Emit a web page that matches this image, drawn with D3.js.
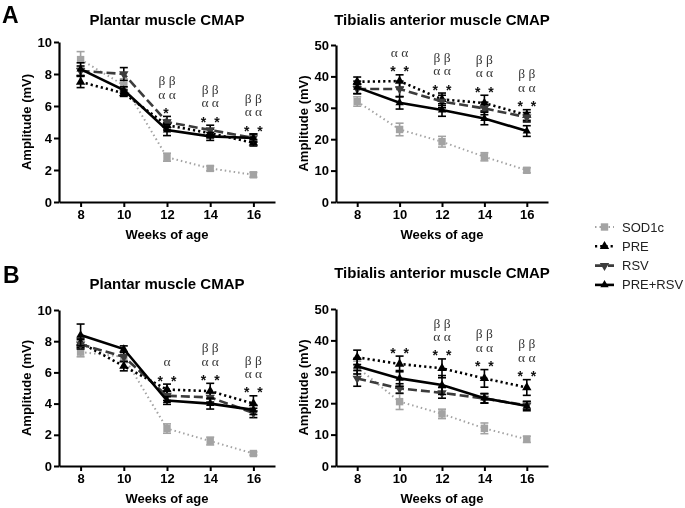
<!DOCTYPE html>
<html><head><meta charset="utf-8">
<script src="https://cdn.jsdelivr.net/npm/d3@7"></script>
<style>body{margin:0;background:#fff}svg{display:block;will-change:transform;transform:translateZ(0)}</style>
</head><body><svg id="c" width="685" height="508"></svg>
<script>
// ---------------- DATA ----------------
const weeks = [8, 10, 12, 14, 16];
const seriesNames = ["SOD1c", "PRE", "RSV", "PRE+RSV"];
const plantarTicks = [0, 2, 4, 6, 8, 10];
const tibialisTicks = [0, 10, 20, 30, 40, 50];

// rows: SOD1c, PRE, RSV, PRE+RSV
const aPlantarMean = [
  [8.9, 7.3, 2.8, 2.1, 1.7],
  [7.5, 6.8, 4.8, 4.3, 3.7],
  [8.2, 8.0, 5.0, 4.5, 4.0],
  [8.3, 7.0, 4.5, 4.1, 4.0]];
const aPlantarSem = [
  [0.5, 0.4, 0.25, 0.15, 0.15],
  [0.35, 0.2, 0.3, 0.25, 0.2],
  [0.3, 0.4, 0.35, 0.3, 0.25],
  [0.4, 0.2, 0.35, 0.25, 0.25]];

const aTibialisMean = [
  [32.0, 23.1, 19.2, 14.4, 10.1],
  [38.3, 38.5, 32.7, 31.5, 27.7],
  [36.0, 36.0, 32.0, 29.8, 27.0],
  [36.5, 31.6, 29.3, 26.6, 22.6]];
const aTibialisSem = [
  [1.5, 2.0, 1.7, 1.3, 0.8],
  [1.5, 2.0, 2.0, 2.5, 1.7],
  [1.5, 2.5, 2.0, 2.0, 1.5],
  [2.0, 2.0, 2.0, 2.0, 1.7]];

const bPlantarMean = [
  [7.3, 7.0, 2.4, 1.6, 0.8],
  [7.9, 6.4, 4.9, 4.8, 4.0],
  [7.8, 7.0, 4.5, 4.4, 3.4],
  [8.4, 7.5, 4.2, 4.0, 3.6]];
const bPlantarSem = [
  [0.3, 0.3, 0.3, 0.25, 0.1],
  [0.3, 0.3, 0.35, 0.5, 0.5],
  [0.3, 0.3, 0.3, 0.3, 0.3],
  [0.7, 0.2, 0.25, 0.35, 0.3]];

const bTibialisMean = [
  [31.4, 20.5, 16.6, 12.0, 8.5],
  [34.6, 32.5, 31.1, 27.9, 25.0],
  [27.9, 24.7, 23.3, 21.5, 19.3],
  [31.8, 27.9, 25.8, 21.6, 19.1]];
const bTibialisSem = [
  [2.0, 2.5, 1.5, 1.7, 1.0],
  [2.3, 2.5, 3.0, 2.8, 2.5],
  [2.5, 1.5, 1.7, 1.5, 1.2],
  [2.5, 2.5, 3.0, 1.5, 1.5]];

const aPlantarMarks = [[], [], ["β β", "α α", "*"], ["β β", "α α", "* *"], ["β β", "α α", "* *"]];
const aTibialisMarks = [[], ["α α", "* *"], ["β β", "α α", "* *"], ["β β", "α α", "* *"], ["β β", "α α", "* *"]];
const bPlantarMarks = [[], [], ["α", "* *"], ["β β", "α α", "* *"], ["β β", "α α", "* *"]];
const bTibialisMarks = [[], ["* *"], ["β β", "α α", "* *"], ["β β", "α α", "* *"], ["β β", "α α", "* *"]];

// ---------------- STYLE ----------------
const SANS = "'Liberation Sans', Arial, Helvetica, sans-serif";
const SERIF = "'Liberation Serif', 'Times New Roman', serif";
const styles = [
  {color: "#a3a3a3", width: 2, dash: "1.5,3", sym: d3.symbolSquare, size: 55, rot: 0},
  {color: "#000", width: 2.6, dash: "2.2,3", sym: d3.symbolTriangle, size: 38, rot: 0},
  {color: "#3c3c3c", width: 2.6, dash: "9,4", sym: d3.symbolTriangle, size: 38, rot: 180},
  {color: "#000", width: 2.6, dash: null, sym: d3.symbolTriangle, size: 30, rot: 0}
];

const svg = d3.select("#c");
svg.append("rect").attr("width", 685).attr("height", 508).attr("fill", "#fff");

const panels = [
  {mean: aPlantarMean, sem: aPlantarSem, marks: aPlantarMarks, ticks: plantarTicks, title: "Plantar muscle CMAP",
   L: 59, R: 275, T: 42, B: 202, titleY: 20, ylabX: 26, cx: 167},
  {mean: aTibialisMean, sem: aTibialisSem, marks: aTibialisMarks, ticks: tibialisTicks, title: "Tibialis anterior muscle CMAP",
   L: 336, R: 548, T: 45, B: 202, titleY: 20, ylabX: 303, cx: 442},
  {mean: bPlantarMean, sem: bPlantarSem, marks: bPlantarMarks, ticks: plantarTicks, title: "Plantar muscle CMAP",
   L: 59, R: 275, T: 310, B: 466, titleY: 284, ylabX: 26, cx: 167},
  {mean: bTibialisMean, sem: bTibialisSem, marks: bTibialisMarks, ticks: tibialisTicks, title: "Tibialis anterior muscle CMAP",
   L: 336, R: 548, T: 309, B: 466, titleY: 273, ylabX: 303, cx: 442}
];

panels.forEach(p => {
  const g = svg.append("g");
  const x = d3.scaleLinear().domain([7, 17]).range([p.L, p.R]);
  const y = d3.scaleLinear().domain([0, d3.max(p.ticks)]).range([p.B, p.T]);

  const xa = g.append("g").attr("transform", `translate(0,${p.B})`)
    .call(d3.axisBottom(x).tickValues(weeks).tickSize(5).tickSizeOuter(0).tickPadding(3));
  const ya = g.append("g").attr("transform", `translate(${p.L},0)`)
    .call(d3.axisLeft(y).tickValues(p.ticks).tickSize(5).tickSizeOuter(0).tickPadding(2));
  [xa, ya].forEach(a => {
    a.select(".domain").attr("stroke", "#000").attr("stroke-width", 2.2);
    a.selectAll(".tick line").attr("stroke", "#000").attr("stroke-width", 2);
    a.selectAll(".tick text").attr("fill", "#000").style("font-family", SANS)
      .style("font-weight", "bold").style("font-size", "13px");
  });

  g.append("text").attr("x", p.cx)
    .attr("y", p.titleY).attr("dy", "0.35em").attr("text-anchor", "middle")
    .style("font-family", SANS).style("font-weight", "bold").style("font-size", "15px").text(p.title);
  g.append("text").attr("x", p.cx).attr("y", p.B + 32).attr("dy", "0.35em")
    .attr("text-anchor", "middle").style("font-family", SANS).style("font-weight", "bold")
    .style("font-size", "13px").text("Weeks of age");
  g.append("text").attr("transform", `translate(${p.ylabX},${(p.T + p.B) / 2}) rotate(-90)`)
    .attr("dy", "0.35em").attr("text-anchor", "middle").style("font-family", SANS)
    .style("font-weight", "bold").style("font-size", "13px").text("Amplitude (mV)");

  p.mean.forEach((vals, si) => {
    const st = styles[si];
    const pts = weeks.map((w, i) => ({w, v: vals[i], e: p.sem[si][i]}));
    const line = d3.line().x(d => x(d.w)).y(d => y(d.v));
    g.append("path").datum(pts).attr("d", line).attr("fill", "none")
      .attr("stroke", st.color).attr("stroke-width", st.width)
      .attr("stroke-dasharray", st.dash);
    const eb = g.append("g").attr("stroke", si === 0 ? "#a3a3a3" : "#000").attr("stroke-width", 1.6);
    pts.forEach(d => {
      eb.append("line").attr("x1", x(d.w)).attr("x2", x(d.w)).attr("y1", y(d.v - d.e)).attr("y2", y(d.v + d.e));
      [d.v - d.e, d.v + d.e].forEach(v => eb.append("line")
        .attr("x1", x(d.w) - 4).attr("x2", x(d.w) + 4).attr("y1", y(v)).attr("y2", y(v)));
    });
    g.append("g").selectAll("path").data(pts).join("path")
      .attr("d", d3.symbol().type(st.sym).size(st.size))
      .attr("transform", d => `translate(${x(d.w)},${y(d.v)}) rotate(${st.rot})`)
      .attr("fill", st.color);
  });

  p.marks.forEach((lines, i) => {
    if (!lines.length) return;
    const top = d3.max(p.mean.map((row, si) => row[i] + p.sem[si][i]));
    const base = y(top) - 9;
    const n = lines.length;
    lines.forEach((txt, k) => {
      const yy = base - (n - 1 - k) * 13.5;
      const star = txt.includes("*");
      g.append("text").attr("x", x(weeks[i]) + (star && txt.length > 1 ? 1 : 0)).attr("y", yy)
        .attr("dy", star ? "0.75em" : "0.35em").attr("text-anchor", "middle")
        .style("font-family", star ? SANS : SERIF).style("font-size", star ? "14px" : "13.5px")
        .style("font-weight", star ? "bold" : "normal")
        .style("letter-spacing", star ? "2px" : "0px")
        .attr("fill", star ? "#111" : "#3a3a3a").text(txt);
    });
  });
});

svg.append("text").attr("x", 2).attr("y", 23).style("font-family", SANS).style("font-weight", "bold")
  .style("font-size", "23px").text("A");
svg.append("text").attr("x", 3).attr("y", 283).style("font-family", SANS).style("font-weight", "bold")
  .style("font-size", "23px").text("B");

const lg = svg.append("g");
seriesNames.forEach((name, si) => {
  const st = styles[si];
  const yy = 227 + si * 19.3;
  lg.append("line").attr("x1", 595).attr("x2", 614).attr("y1", yy).attr("y2", yy)
    .attr("stroke", st.color).attr("stroke-width", st.width).attr("stroke-dasharray", st.dash);
  lg.append("path").attr("d", d3.symbol().type(st.sym).size(st.size))
    .attr("transform", `translate(604.5,${yy}) rotate(${st.rot})`).attr("fill", st.color);
  lg.append("text").attr("x", 622).attr("y", yy).attr("dy", "0.35em")
    .style("font-family", SANS).style("font-size", "13px").attr("fill", "#222").text(name);
});
</script></body></html>
